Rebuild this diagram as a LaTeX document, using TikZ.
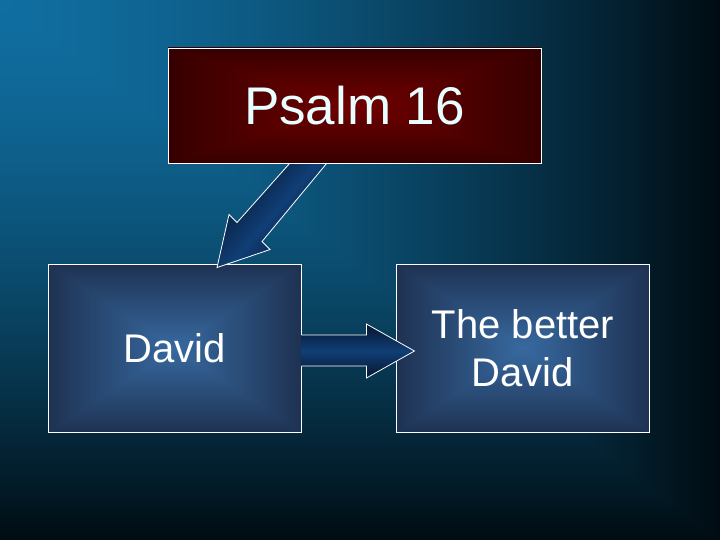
\documentclass[tikz,border=0pt]{standalone}
\usepackage{fontspec}
\setmainfont{Liberation Sans}
\usetikzlibrary{calc}
\definecolor{psalmtext}{RGB}{232,255,255}
\definecolor{arrowdark}{RGB}{6,22,45}
\definecolor{arrowlight}{RGB}{16,62,118}
% background: rectangular gradient from the top-left corner
% (TikZ fits the path to the central 25bp..75bp part of the shading)
\pgfdeclarefunctionalshading{bgshade}{\pgfpointorigin}{\pgfpoint{100bp}{100bp}}{}{
  100 exch sub 2 copy sub abs 3 1 roll add add 2 div 25 sub 50 div
  dup abs sqrt mul 1 exch sub
  dup dup 0.556 mul 0.071 add 3 1 roll 0.384 mul 0.047 add exch 0.063 mul exch 3 -1 roll
}
% pyramidal (rectangular) gradient, blue
\pgfdeclarefunctionalshading{bluepyr}{\pgfpoint{-50bp}{-50bp}}{\pgfpoint{50bp}{50bp}}{}{
  abs exch abs 2 copy sub abs 3 1 roll add add 2 div 25 div
  dup dup -0.305 mul 0.627 add 3 1 roll -0.216 mul 0.412 add exch -0.098 mul 0.216 add exch 3 -1 roll
}
% pyramidal gradient, red
\pgfdeclarefunctionalshading{redpyr}{\pgfpoint{-50bp}{-50bp}}{\pgfpoint{50bp}{50bp}}{}{
  abs exch abs 2 copy sub abs 3 1 roll add add 2 div 25 div
  -0.23 mul 0.44 add 0 0
}
\tikzset{
  boxline/.style={draw=white, line width=0.9pt},
  bluebox/.style={boxline, shade, shading=bluepyr, minimum width=253pt,
    minimum height=168pt, text=white, font=\fontsize{40}{48}\selectfont,
    align=center, inner sep=0pt},
  redbox/.style={boxline, shade, shading=redpyr, minimum width=373pt,
    minimum height=115pt, text=psalmtext, font=\fontsize{53}{60}\selectfont,
    inner sep=0pt},
  blockarrow/.style={draw=white, line width=0.8pt, line join=miter,
    top color=arrowdark, bottom color=arrowdark, middle color=arrowlight},
  diagarrow/.style={blockarrow, shading angle=49},
}
\begin{document}
\begin{tikzpicture}[x=1pt,y=-1pt]
\useasboundingbox (0,0) rectangle (720,540);
\shade[shading=bgshade] (0,0) rectangle (720,540);

\node[bluebox] (david) at (174.5,348) {David};
\node[bluebox] (better) at (523,348) {The better\\David};

% arrow David -> The better David
\path[blockarrow] (david.east) ++(0,-13) -- ++(65,0) -- ++(0,-11)
  -- ++(48,27) -- ++(-48,27) -- ++(0,-12) -- ++(-65,0);

\coordinate (psalmbottom) at (354.5,163);
% arrow Psalm 16 -> David
\path[diagarrow] ($(psalmbottom)+(-64.5,0)$) -- ($(david.north)+(62.5,-41)$)
  -- ($(david.north)+(54.5,-49)$) -- ($(david.north)+(42.5,4)$)
  -- ($(david.north)+(95.5,-14)$) -- ($(david.north)+(87.5,-22)$)
  -- ($(psalmbottom)+(-27.5,0)$);

\node[redbox] (psalm) at (354.5,105.5) {Psalm 16};
\end{tikzpicture}
\end{document}
